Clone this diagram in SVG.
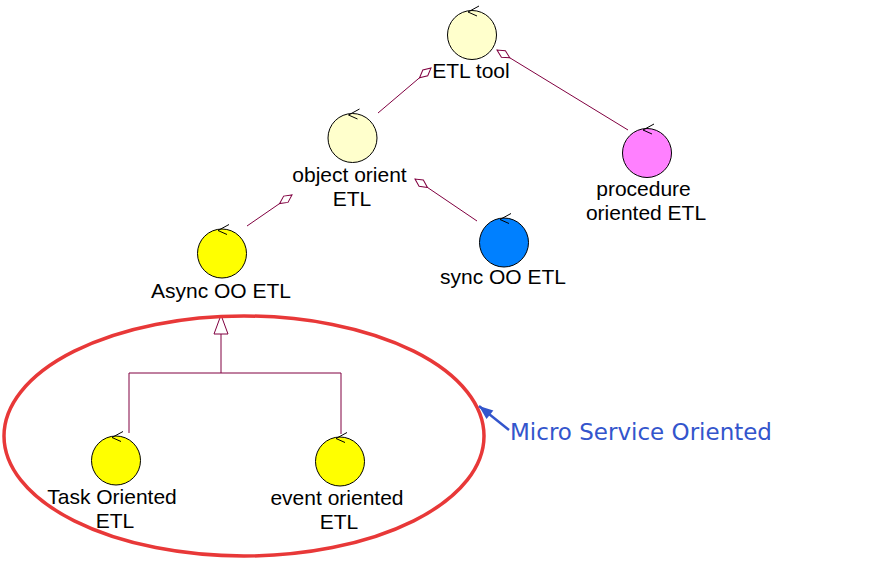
<svg xmlns="http://www.w3.org/2000/svg" xmlns:xlink="http://www.w3.org/1999/xlink" width="891" height="562" viewBox="0 0 891 562">
<style>
.node circle{stroke:#000;stroke-width:1}
.lbl{font-family:"Liberation Sans",Arial,sans-serif;font-size:21px;fill:#000;text-anchor:middle}
.ctl{fill:none;stroke:#000;stroke-width:1}
.conn{fill:none;stroke:#800040;stroke-width:1}
</style>
<defs>
<path id="ctl" class="ctl" d="M7,-29 L-4,-23 L5,-19"/>
<marker id="agg" markerUnits="userSpaceOnUse" markerWidth="18" markerHeight="10" refX="15" refY="0" viewBox="-1 -5 17 10" orient="auto" overflow="visible">
<path d="M0,0 L7.5,-3.8 L15,0 L7.5,3.8 Z" fill="#fff" stroke="#800040" stroke-width="1"/>
</marker>
<marker id="gen" markerUnits="userSpaceOnUse" markerWidth="22" markerHeight="16" refX="19" refY="0" viewBox="-1 -8 21 16" orient="auto" overflow="visible">
<path d="M0,-7 L19,0 L0,7 Z" fill="#fff" stroke="#800040" stroke-width="1"/>
</marker>
<marker id="blue" markerUnits="userSpaceOnUse" markerWidth="16" markerHeight="12" refX="14" refY="0" viewBox="0 -6 15 12" orient="auto" overflow="visible">
<path d="M0,-5.5 L14,0 L0,5.5 Z" fill="#3355cc"/>
</marker>
</defs>

<g id="connectors">
<line class="conn" x1="378" y1="113" x2="431" y2="68" marker-end="url(#agg)"/>
<line class="conn" x1="628" y1="130" x2="497" y2="50" marker-end="url(#agg)"/>
<line class="conn" x1="247" y1="226" x2="292" y2="195" marker-end="url(#agg)"/>
<line class="conn" x1="477" y1="221" x2="415" y2="179" marker-end="url(#agg)"/>
<polyline class="conn" points="129,433 129,373 341,373 341,434"/>
<line class="conn" x1="221" y1="373" x2="221" y2="315" marker-end="url(#gen)"/>
</g>

<g id="etl-tool" class="node">
<circle cx="472" cy="35" r="24.5" fill="#ffffcc"/>
<use xlink:href="#ctl" href="#ctl" x="472" y="35"/>
<text class="lbl" x="471" y="78">ETL tool</text>
</g>

<g id="object-orient" class="node">
<circle cx="352.5" cy="138" r="24.5" fill="#ffffcc"/>
<use xlink:href="#ctl" href="#ctl" x="352.5" y="138"/>
<text class="lbl" x="349.5" y="182">object orient</text>
<text class="lbl" x="352" y="206">ETL</text>
</g>

<g id="procedure" class="node">
<circle cx="647" cy="153" r="24.5" fill="#ff80ff"/>
<use xlink:href="#ctl" href="#ctl" x="647" y="153"/>
<text class="lbl" x="643.5" y="196">procedure</text>
<text class="lbl" x="646" y="220">oriented ETL</text>
</g>

<g id="async" class="node">
<circle cx="222" cy="253.5" r="24.5" fill="#ffff00"/>
<use xlink:href="#ctl" href="#ctl" x="222" y="253.5"/>
<text class="lbl" x="221" y="298">Async OO ETL</text>
</g>

<g id="sync" class="node">
<circle cx="504" cy="242.5" r="24.5" fill="#0080ff"/>
<use xlink:href="#ctl" href="#ctl" x="504" y="242.5"/>
<text class="lbl" x="503" y="284">sync OO ETL</text>
</g>

<g id="task" class="node">
<circle cx="116" cy="460.5" r="24.5" fill="#ffff00"/>
<use xlink:href="#ctl" href="#ctl" x="116" y="460.5"/>
<text class="lbl" x="112" y="504">Task Oriented</text>
<text class="lbl" x="115" y="528">ETL</text>
</g>

<g id="event" class="node">
<circle cx="340" cy="461.5" r="24.5" fill="#ffff00"/>
<use xlink:href="#ctl" href="#ctl" x="340" y="461.5"/>
<text class="lbl" x="337" y="505">event oriented</text>
<text class="lbl" x="339" y="529">ETL</text>
</g>

<g id="annotation">
<ellipse cx="244" cy="436" rx="240" ry="120" fill="none" stroke="#e83838" stroke-width="3.5"/>
<line x1="509" y1="430" x2="479" y2="406" stroke="#3355cc" stroke-width="2.5" marker-end="url(#blue)"/>
<text x="510" y="440" font-family="'DejaVu Sans',Verdana,sans-serif" font-size="23" fill="#3355cc">Micro Service Oriented</text>
</g>
</svg>
